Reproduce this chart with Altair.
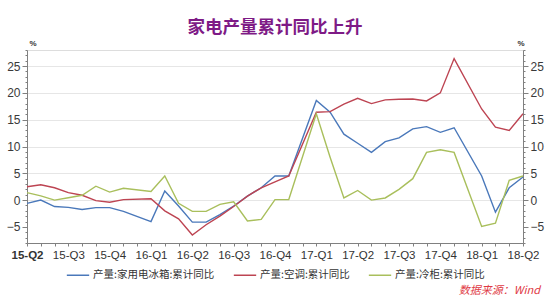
import altair as alt
import pandas as pd

# ---- data (monthly, index 0 = first point) ----
months = list(range(37))
quarter_labels = ["15-Q2", "15-Q3", "15-Q4", "16-Q1", "16-Q2", "16-Q3", "16-Q4",
                  "17-Q1", "17-Q2", "17-Q3", "17-Q4", "18-Q1", "18-Q2"]
series_names = ["产量:家用电冰箱:累计同比", "产量:空调:累计同比", "产量:冷柜:累计同比"]

fridge = [-0.6, 0.0, -1.2, -1.35, -1.75, -1.4, -1.4, -2.1, None, -4.0,
          1.7, -1.1, -4.1, -4.1, -2.7, -1.1, 0.75, 2.3, 4.5, 4.5,
          None, 18.6, 16.4, 12.3, 10.6, 8.9, 10.9, 11.6, 13.3, 13.7,
          12.65, 13.5, None, 4.5, -2.25, 2.3, 4.3]
aircon = [2.5, 2.85, 2.3, 1.4, 0.9, -0.1, -0.4, 0.1, None, 0.25,
          -2.0, -3.5, -6.5, -4.6, -3.0, -1.2, 0.75, 2.3, 3.4, 4.5,
          None, 16.4, 16.5, 17.9, 19.0, 18.0, 18.7, 18.8, 18.85, 18.5,
          20.0, 26.4, None, 17.0, 13.6, 13.0, 16.1]
freezer = [1.4, 0.8, 0.0, 0.45, 0.9, 2.6, 1.5, 2.2, None, 1.6,
           4.5, -0.6, -2.1, -2.1, -0.8, -0.3, -3.9, -3.6, 0.1, 0.1,
           None, 16.1, 8.0, 0.4, 1.8, 0.0, 0.4, 2.0, 4.0, 8.9,
           9.4, 8.9, None, -4.9, -4.3, 3.7, 4.5]

title_text = "家电产量累计同比上升"
source_text = "数据来源：Wind"
colors = ["#4A78BA", "#BD4452", "#A9BF5C"]

rows = []
for name, vals in zip(series_names, [fridge, aircon, freezer]):
    for m, v in zip(months, vals):
        if v is not None:
            rows.append({"month": m, "series": name, "value": v})
df = pd.DataFrame(rows)

FONT = "Noto Sans CJK SC"
LATIN = "Liberation Sans"
W, H = 496, 193
label_list = "[" + ",".join("'%s'" % q for q in quarter_labels) + "]"

x_axis = alt.Axis(
    values=months,
    labelExpr="datum.value % 3 == 0 ? " + label_list + "[datum.value / 3] : ''",
    labelOverlap=False, labelFlush=False, labelFontSize=11.5, labelFont=LATIN,
    labelFontWeight={"condition": {"test": "datum.value === 0", "value": "bold"}, "value": "normal"},
    labelColor="#333333", labelPadding=3, tickSize=3, tickColor="#808080",
    domainColor="#808080", grid=False, title=None,
)
x_enc = alt.X("month:Q", scale=alt.Scale(domain=[0, 36], nice=False, zero=False), axis=x_axis)

y_ticks = list(range(-8, 29))
y_scale = alt.Scale(domain=[-8, 28], nice=False, zero=False)


def y_axis(orient, grid):
    return alt.Axis(
        orient=orient, values=y_ticks,
        labelExpr="datum.value % 5 == 0 ? datum.label : ''",
        labelOverlap=False, labelFlush=False, labelFontSize=12, labelFont=LATIN,
        labelColor="#3a3a3a", labelPadding=2,
        tickSize={"condition": {"test": "datum.value % 5 === 0", "value": 5}, "value": 2},
        tickColor="#808080", domainColor="#808080",
        grid=grid,
        gridColor="#E6E6E6",
        gridOpacity={"condition": {"test": "datum.value % 5 === 0 && datum.value != -5", "value": 1}, "value": 0},
        title="%", titleAngle=0, titleFontSize=8, titleFont=LATIN, titleColor="#333333",
        titleFontWeight="bold",
        titleX=(2 if orient == "left" else -6), titleY=-3, titleAlign="left",
        titleBaseline="bottom",
    )


base = alt.Chart(df)

lines = base.mark_line(strokeWidth=1.4).encode(
    x=x_enc,
    y=alt.Y("value:Q", scale=y_scale, axis=y_axis("left", True)),
    color=alt.Color(
        "series:N",
        scale=alt.Scale(domain=series_names, range=colors),
        legend=alt.Legend(
            orient="none", legendX=39, legendY=213, direction="horizontal",
            title=None, symbolType="stroke", symbolSize=500, symbolStrokeWidth=1.5,
            labelFontSize=10.5, labelFont=FONT, labelColor="#333333",
            columnPadding=15, labelOffset=3,
        ),
    ),
    detail="series:N",
)

right = base.mark_line(opacity=0).encode(
    x=x_enc,
    y=alt.Y("value:Q", scale=y_scale, axis=y_axis("right", False)),
    detail="series:N",
)

source = alt.Chart(pd.DataFrame({"t": [source_text]})).mark_text(
    align="right", baseline="middle", fontSize=11, fontStyle="italic",
    font=FONT, color="#E03A45",
).encode(text="t:N", x=alt.value(513), y=alt.value(241))

title = alt.Chart(pd.DataFrame({"t": [title_text]})).mark_text(
    align="center", baseline="middle", fontSize=17.5, fontWeight="bold",
    font=FONT, color="#7E1A86",
).encode(text="t:N", x=alt.value(248), y=alt.value(-22))

chart = alt.layer(lines, right, source, title).resolve_scale(y="independent").properties(
    width=W, height=H,
    padding={"left": 27, "top": 50, "right": 27, "bottom": 57},
    autosize=alt.AutoSizeParams(type="none"),
).configure_view(stroke=None).configure(background="white")

chart.save("out.html", embed_options={"renderer": "svg", "actions": False})
